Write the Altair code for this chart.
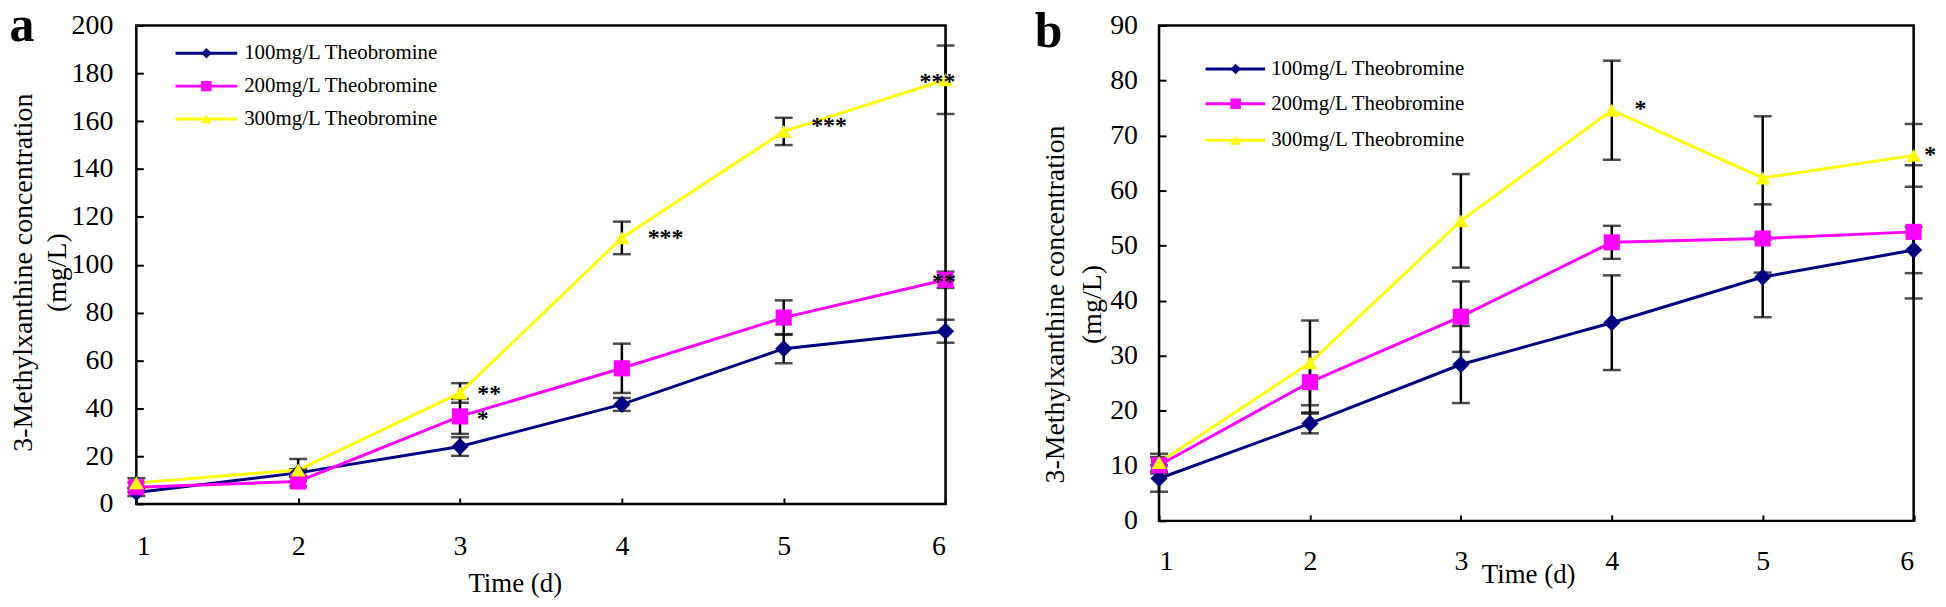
import altair as alt
import pandas as pd

FONT = "Liberation Serif"

days = [1, 2, 3, 4, 5, 6]
series = ["100mg/L Theobromine", "200mg/L Theobromine", "300mg/L Theobromine"]
colors = ["#000080", "#FF00FF", "#FFFF00"]
shapes = ["diamond", "square", "triangle-up"]
marker_sizes = [300, 225, 324]

# Panel a
a_100 = [4.8, 13.0, 24.0, 41.6, 64.9, 72.2]
a_100_err = [1.5, 1.5, 3.9, 2.7, 6.1, 4.8]
a_200 = [7.0, 9.4, 36.6, 56.7, 77.9, 93.7]
a_200_err = [2.0, 2.0, 7.3, 10.3, 7.2, 3.4]
a_300 = [8.8, 14.2, 46.4, 111.2, 155.7, 177.3]
a_300_err = [2.0, 4.6, 4.1, 6.8, 5.7, 14.3]
a_ann_day = [3.18, 3.14, 4.27, 5.28, 5.95, 5.99]
a_ann_val = [47.5, 37.3, 112.7, 159.7, 177.9, 94.5]
a_ann_text = ["**", "*", "***", "***", "***", "**"]

# Panel b
b_100 = [7.7, 17.7, 28.4, 36.0, 44.3, 49.2]
b_100_err = [2.4, 1.8, 7.0, 8.6, 7.3, 4.2]
b_200 = [10.1, 25.2, 37.1, 50.6, 51.3, 52.5]
b_200_err = [1.5, 5.5, 6.4, 3.0, 6.2, 12.1]
b_300 = [10.6, 28.7, 54.5, 74.6, 62.3, 66.4]
b_300_err = [1.6, 7.7, 8.5, 9.0, 11.2, 5.7]
b_ann_day = [4.19, 6.11]
b_ann_val = [75.6, 67.1]
b_ann_text = ["*", "*"]

y_title = ["3-Methylxanthine concentration", "(mg/L)"]
x_title = "Time (d)"

cs = alt.Scale(domain=series, range=colors)
ss = alt.Scale(domain=series, range=shapes)
zs = alt.Scale(domain=series, range=marker_sizes)


def panel(vals, errs, ymax, ystep, ann_day, ann_val, ann_text, letter, g):
    rows = []
    for s, v, e in zip(series, vals, errs):
        for d, vi, ei in zip(days, v, e):
            rows.append({"day": d, "value": vi, "lo": vi - ei, "hi": vi + ei, "series": s})
    df = pd.DataFrame(rows)
    ann = pd.DataFrame({"day": ann_day, "value": ann_val, "txt": ann_text})

    xs = alt.Scale(domain=[1, 6], nice=False, zero=False)
    ys = alt.Scale(domain=[0, ymax], nice=False)
    x_axis = alt.Axis(values=days, format="d", offset=-6, tickSize=6, domain=False, grid=False,
                      labelPadding=g["xlp"], labelAngle=0, title=x_title,
                      titleX=g["xtx"], titleY=g["xty"], titleBaseline="alphabetic",
                      titleAlign="center", titleFontSize=27)
    y_axis = alt.Axis(values=list(range(0, ymax + 1, ystep)), offset=-7, tickSize=7, domain=False,
                      grid=False, labelPadding=g["ylp"], title=y_title, titleAngle=270,
                      titleX=g["ytx"], titleY=g["yty"], titleBaseline="middle", titleAlign="center",
                      titleLineHeight=g["ylh"], titleFontSize=28)

    X = alt.X("day:Q", scale=xs, axis=x_axis)
    Y = alt.Y("value:Q", scale=ys, axis=y_axis)

    base = alt.Chart(df)
    err = base.mark_rule(color="black", strokeWidth=2.5).encode(
        x=alt.X("day:Q", scale=xs), y=alt.Y("lo:Q", scale=ys), y2="hi:Q")
    caps = base.transform_fold(["lo", "hi"], as_=["k", "cap"]).mark_tick(
        orient="horizontal", size=18, thickness=2.5, color="black").encode(
        x=alt.X("day:Q", scale=xs), y=alt.Y("cap:Q", scale=ys))
    line = base.mark_line(strokeWidth=3).encode(
        x=X, y=Y, color=alt.Color("series:N", scale=cs, legend=None))
    pts = base.mark_point(filled=True, opacity=1).encode(
        x=alt.X("day:Q", scale=xs), y=alt.Y("value:Q", scale=ys),
        color=alt.Color("series:N", scale=cs, legend=None),
        shape=alt.Shape("series:N", scale=ss, legend=None),
        size=alt.Size("series:N", scale=zs, legend=None))
    txt = alt.Chart(ann).mark_text(font=FONT, fontSize=24, fontWeight="bold", baseline="middle",
                                   align="center", dy=4, color="black").encode(
        x=alt.X("day:Q", scale=xs), y=alt.Y("value:Q", scale=ys), text="txt:N")

    layers = [err, caps, line, pts, txt]
    for i, s in enumerate(series):
        one = alt.Chart(pd.DataFrame({"series": [s]}))
        ry = g["leg_rows"][i]
        layers.append(one.mark_rule(strokeWidth=3).encode(
            x=alt.value(g["leg_x0"]), x2=alt.value(g["leg_x1"]), y=alt.value(ry),
            color=alt.Color("series:N", scale=cs, legend=None)))
        layers.append(one.mark_point(filled=True, opacity=1, size=110).encode(
            x=alt.value(g["leg_m"]), y=alt.value(ry),
            color=alt.Color("series:N", scale=cs, legend=None),
            shape=alt.Shape("series:N", scale=ss, legend=None)))
        layers.append(one.mark_text(font=FONT, fontSize=21, align="left", baseline="middle",
                                    color="black").encode(
            x=alt.value(g["leg_t"]), y=alt.value(ry), text="series:N"))
    lab = alt.Chart(pd.DataFrame({"lab": [letter]})).mark_text(
        text=["", letter], lineHeight=g["let_lh"], font=FONT, fontSize=50, fontWeight="bold",
        align="left", baseline="alphabetic", color="black").encode(
        x=alt.value(g["let_x"]), y=alt.value(26))
    layers.append(lab)
    return alt.layer(*layers).properties(width=g["W"], height=g["H"])


ga = dict(W=813.4, H=481, xlp=29, xtx=380.4, xty=94, ylp=23.6, ytx=-120.6, yty=248, ylh=34,
          leg_rows=[28, 61, 94], leg_x0=39.4, leg_x1=101.4, leg_m=70.4, leg_t=108.4,
          let_x=-127.6, let_lh=-10)
gb = dict(W=758.5, H=498, xlp=27, xtx=371, xty=68, ylp=21.6, ytx=-111.5, yty=280, ylh=38,
          leg_rows=[43.8, 78.7, 115.4], leg_x0=46.8, leg_x1=106.6, leg_m=77, leg_t=112.7,
          let_x=-125, let_lh=-4)

pa = panel([a_100, a_200, a_300], [a_100_err, a_200_err, a_300_err], 200, 20,
           a_ann_day, a_ann_val, a_ann_text, "a", ga)
pb = panel([b_100, b_200, b_300], [b_100_err, b_200_err, b_300_err], 90, 10,
           b_ann_day, b_ann_val, b_ann_text, "b", gb)

chart = alt.hconcat(pa, pb, spacing=214, bounds="flush").properties(
    padding=0, background="white"
).configure_view(
    stroke="black", strokeWidth=2.5
).configure_axis(
    labelFont=FONT, labelFontSize=28, labelColor="black", tickColor="black", tickWidth=2,
    titleFont=FONT, titleColor="black", titleFontWeight="normal"
)

chart.save("out.html", embed_options={"renderer": "svg", "actions": False})
